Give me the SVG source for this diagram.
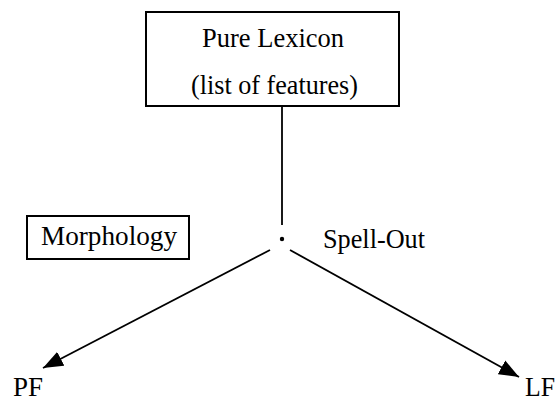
<svg xmlns="http://www.w3.org/2000/svg" width="557" height="403" viewBox="0 0 557 403">
  <style>
    .box { fill: #ffffff; stroke: #000000; stroke-width: 2; }
    .lbl { font-family: "Liberation Serif", "Times New Roman", serif; font-size: 28px; fill: #000000; }
    .edge { stroke: #000000; stroke-width: 1.8; fill: none; }
  </style>
  <defs>
    <marker id="arrow" markerUnits="userSpaceOnUse" markerWidth="20" markerHeight="16" viewBox="0 0 18 14" refX="18" refY="7" orient="auto">
      <path d="M0,0 L18,7 L0,14 Z" fill="#000000"/>
    </marker>
  </defs>

  <rect width="557" height="403" fill="#ffffff"/>

  <g id="lexicon">
    <rect class="box" x="146" y="12" width="253" height="94"/>
    <text class="lbl" x="202" y="47" textLength="142" lengthAdjust="spacingAndGlyphs">Pure Lexicon</text>
    <text class="lbl" x="191" y="94" textLength="167" lengthAdjust="spacingAndGlyphs">(list of features)</text>
  </g>

  <g id="morphology">
    <rect class="box" x="27" y="216" width="162" height="43"/>
    <text class="lbl" x="41" y="245" textLength="136" lengthAdjust="spacingAndGlyphs">Morphology</text>
  </g>

  <g id="spellout">
    <circle cx="282" cy="239" r="2.2" fill="#000000"/>
    <text class="lbl" x="323" y="248" textLength="102" lengthAdjust="spacingAndGlyphs">Spell-Out</text>
  </g>

  <g id="pf">
    <text class="lbl" x="13" y="396" textLength="30" lengthAdjust="spacingAndGlyphs">PF</text>
  </g>

  <g id="lf">
    <text class="lbl" x="525" y="396" textLength="30" lengthAdjust="spacingAndGlyphs">LF</text>
  </g>

  <g id="connectors">
    <line class="edge" x1="282" y1="106" x2="282" y2="225"/>
    <line class="edge" x1="270" y1="250" x2="43" y2="368" marker-end="url(#arrow)"/>
    <line class="edge" x1="290" y1="250" x2="519" y2="377" marker-end="url(#arrow)"/>
  </g>
</svg>
